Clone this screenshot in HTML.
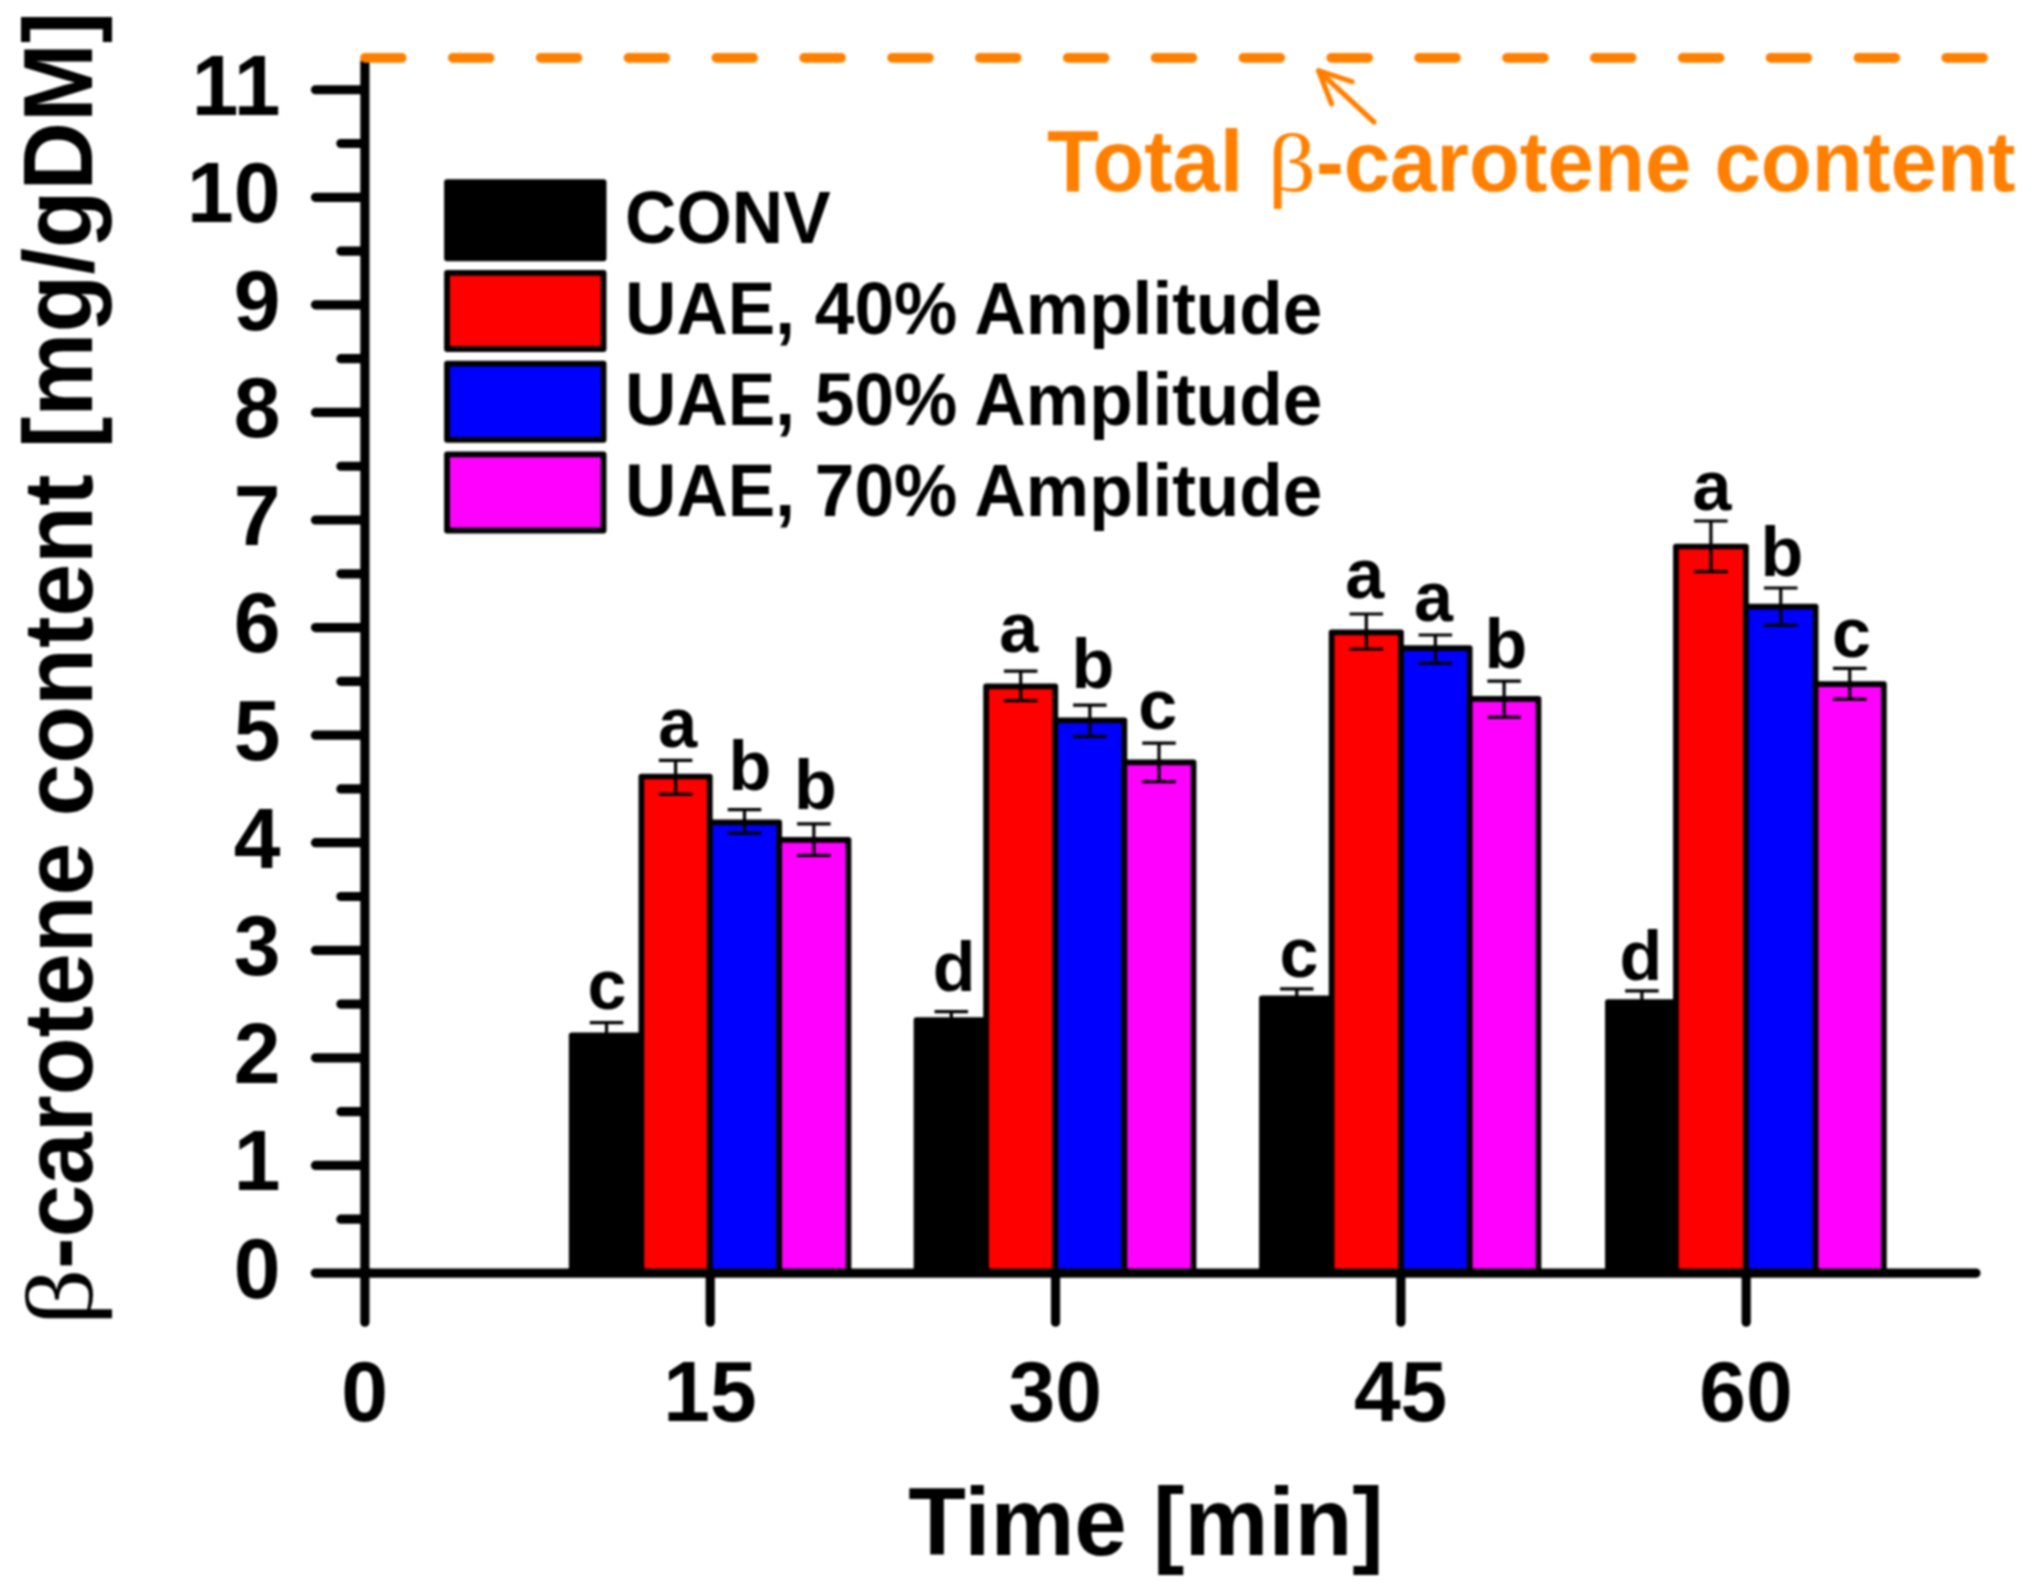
<!DOCTYPE html>
<html lang="en"><head><meta charset="utf-8"><title>β-carotene content vs. time</title>
<style>
html,body{margin:0;padding:0;background:#fff;}
body{width:2039px;height:1595px;overflow:hidden;}
svg{display:block;filter:blur(0.9px);}
text{font-family:"Liberation Sans",sans-serif;font-weight:bold;fill:#000;}
.sym{font-family:"Liberation Serif",serif;font-weight:normal;}
</style></head><body>
<svg width="2039" height="1595" viewBox="0 0 2039 1595">
<rect x="0" y="0" width="2039" height="1595" fill="#ffffff"/>
<g stroke="#000" stroke-width="5.70" stroke-linejoin="round">
<rect x="571.70" y="1035.30" width="69.70" height="237.70" fill="#000000"/>
<rect x="641.40" y="776.50" width="68.40" height="496.50" fill="#ff0000"/>
<rect x="709.80" y="822.30" width="69.40" height="450.70" fill="#0000ff"/>
<rect x="779.20" y="839.80" width="69.30" height="433.20" fill="#ff00ff"/>
<rect x="916.50" y="1020.10" width="69.60" height="252.90" fill="#000000"/>
<rect x="986.10" y="686.40" width="69.20" height="586.60" fill="#ff0000"/>
<rect x="1055.30" y="720.40" width="69.10" height="552.60" fill="#0000ff"/>
<rect x="1124.40" y="762.40" width="69.20" height="510.60" fill="#ff00ff"/>
<rect x="1261.90" y="998.30" width="69.70" height="274.70" fill="#000000"/>
<rect x="1331.60" y="632.40" width="69.40" height="640.60" fill="#ff0000"/>
<rect x="1401.00" y="648.20" width="68.70" height="624.80" fill="#0000ff"/>
<rect x="1469.70" y="698.90" width="68.80" height="574.10" fill="#ff00ff"/>
<rect x="1607.90" y="1002.00" width="68.00" height="271.00" fill="#000000"/>
<rect x="1675.90" y="546.50" width="70.00" height="726.50" fill="#ff0000"/>
<rect x="1745.90" y="606.60" width="69.70" height="666.40" fill="#0000ff"/>
<rect x="1815.60" y="684.20" width="68.30" height="588.80" fill="#ff00ff"/>
</g>
<g stroke="#000" stroke-width="3.20" fill="none">
<path d="M589.80 1022.60H623.30M589.80 1048.00H623.30M606.55 1022.60V1048.00"/>
<path d="M658.85 760.40H692.35M658.85 794.20H692.35M675.60 760.40V794.20"/>
<path d="M727.75 809.70H761.25M727.75 833.20H761.25M744.50 809.70V833.20"/>
<path d="M797.10 823.80H830.60M797.10 855.30H830.60M813.85 823.80V855.30"/>
<path d="M934.55 1011.70H968.05M934.55 1028.50H968.05M951.30 1011.70V1028.50"/>
<path d="M1003.95 671.20H1037.45M1003.95 700.70H1037.45M1020.70 671.20V700.70"/>
<path d="M1073.10 705.20H1106.60M1073.10 736.40H1106.60M1089.85 705.20V736.40"/>
<path d="M1142.25 743.20H1175.75M1142.25 781.60H1175.75M1159.00 743.20V781.60"/>
<path d="M1280.00 988.90H1313.50M1280.00 1007.70H1313.50M1296.75 988.90V1007.70"/>
<path d="M1349.55 614.00H1383.05M1349.55 649.00H1383.05M1366.30 614.00V649.00"/>
<path d="M1418.60 635.00H1452.10M1418.60 663.20H1452.10M1435.35 635.00V663.20"/>
<path d="M1487.35 681.10H1520.85M1487.35 717.10H1520.85M1504.10 681.10V717.10"/>
<path d="M1625.15 990.90H1658.65M1625.15 1013.10H1658.65M1641.90 990.90V1013.10"/>
<path d="M1694.15 521.00H1727.65M1694.15 571.60H1727.65M1710.90 521.00V571.60"/>
<path d="M1764.00 588.00H1797.50M1764.00 625.20H1797.50M1780.75 588.00V625.20"/>
<path d="M1833.00 668.40H1866.50M1833.00 699.10H1866.50M1849.75 668.40V699.10"/>
</g>
<g font-size="70" text-anchor="middle">
<text x="607.0" y="1008.5">c</text>
<text x="677.8" y="746.8">a</text>
<text x="750.0" y="789.8">b</text>
<text x="815.3" y="808.9">b</text>
<text x="954.2" y="991.2">d</text>
<text x="1018.6" y="651.8">a</text>
<text x="1093.0" y="688.3">b</text>
<text x="1157.6" y="728.5">c</text>
<text x="1298.9" y="977.0">c</text>
<text x="1364.6" y="598.3">a</text>
<text x="1433.4" y="621.0">a</text>
<text x="1506.0" y="668.3">b</text>
<text x="1641.0" y="979.7">d</text>
<text x="1712.0" y="510.0">a</text>
<text x="1782.0" y="576.0">b</text>
<text x="1851.4" y="657.3">c</text>
</g>
<g stroke="#000" stroke-width="9.2" stroke-linecap="round" fill="none">
<path d="M315.5 1165.43H363.9"/>
<path d="M315.5 1057.86H363.9"/>
<path d="M315.5 950.29H363.9"/>
<path d="M315.5 842.72H363.9"/>
<path d="M315.5 735.15H363.9"/>
<path d="M315.5 627.58H363.9"/>
<path d="M315.5 520.01H363.9"/>
<path d="M315.5 412.44H363.9"/>
<path d="M315.5 304.87H363.9"/>
<path d="M315.5 197.30H363.9"/>
<path d="M315.5 89.73H363.9"/>
<path d="M340.9 1219.21H363.9"/>
<path d="M340.9 1111.64H363.9"/>
<path d="M340.9 1004.08H363.9"/>
<path d="M340.9 896.50H363.9"/>
<path d="M340.9 788.94H363.9"/>
<path d="M340.9 681.37H363.9"/>
<path d="M340.9 573.80H363.9"/>
<path d="M340.9 466.23H363.9"/>
<path d="M340.9 358.66H363.9"/>
<path d="M340.9 251.09H363.9"/>
<path d="M340.9 143.52H363.9"/>
<path d="M710.23 1274.0V1322.2"/>
<path d="M1055.55 1274.0V1322.2"/>
<path d="M1400.88 1274.0V1322.2"/>
<path d="M1746.20 1274.0V1322.2"/>
<path d="M364.9 62.0V1322.2"/>
<path d="M315.3 1273.1H1976.0"/>
</g>
<path d="M365.0 57.8H1990" stroke="#ff8000" stroke-width="9.8" stroke-linecap="round" stroke-dasharray="36.7 51.15" fill="none"/>
<g stroke="#ff8000" stroke-width="5.2" stroke-linecap="round" stroke-linejoin="round" fill="none">
<path d="M1374 122L1318.6 70.8"/><path d="M1352 81.6L1318.6 70.8L1331.5 103.8"/>
</g>
<text transform="translate(280.50 1297.80) scale(1.0000 1.0200)" font-size="84" text-anchor="end">0</text>
<text transform="translate(280.50 1190.23) scale(1.0000 1.0200)" font-size="84" text-anchor="end">1</text>
<text transform="translate(280.50 1082.66) scale(1.0000 1.0200)" font-size="84" text-anchor="end">2</text>
<text transform="translate(280.50 975.09) scale(1.0000 1.0200)" font-size="84" text-anchor="end">3</text>
<text transform="translate(280.50 867.52) scale(1.0000 1.0200)" font-size="84" text-anchor="end">4</text>
<text transform="translate(280.50 759.95) scale(1.0000 1.0200)" font-size="84" text-anchor="end">5</text>
<text transform="translate(280.50 652.38) scale(1.0000 1.0200)" font-size="84" text-anchor="end">6</text>
<text transform="translate(280.50 544.81) scale(1.0000 1.0200)" font-size="84" text-anchor="end">7</text>
<text transform="translate(280.50 437.24) scale(1.0000 1.0200)" font-size="84" text-anchor="end">8</text>
<text transform="translate(280.50 329.67) scale(1.0000 1.0200)" font-size="84" text-anchor="end">9</text>
<text transform="translate(280.50 222.10) scale(1.0000 1.0200)" font-size="84" text-anchor="end">10</text>
<text transform="translate(280.50 114.53) scale(1.0000 1.0200)" font-size="84" text-anchor="end">11</text>
<text transform="translate(364.60 1421.40) scale(1.0000 1.0200)" font-size="84" text-anchor="middle">0</text>
<text transform="translate(709.93 1421.40) scale(1.0000 1.0200)" font-size="84" text-anchor="middle">15</text>
<text transform="translate(1055.25 1421.40) scale(1.0000 1.0200)" font-size="84" text-anchor="middle">30</text>
<text transform="translate(1400.58 1421.40) scale(1.0000 1.0200)" font-size="84" text-anchor="middle">45</text>
<text transform="translate(1745.90 1421.40) scale(1.0000 1.0200)" font-size="84" text-anchor="middle">60</text>
<text transform="translate(1146.00 1554.60) scale(1.0000 1.0200)" font-size="94.4" text-anchor="middle">Time [min]</text>
<text transform="translate(91.8 1297.0) rotate(-90) scale(1.155 0.986)" font-size="97" text-anchor="middle" class="sym">β</text>
<text transform="translate(91.6 11.6) rotate(-90) scale(0.9765 1.01)" font-size="97" text-anchor="end">-carotene content [mg/gDM]</text>
<text transform="translate(1047.00 190.60) scale(1.0000 1.0200)" font-size="84.8" text-anchor="start" style="fill:#ff8000">Total</text>
<text transform="translate(1292.00 190.60) scale(1.1300 0.9700)" font-size="84" text-anchor="middle" class="sym" style="fill:#ff8000">β</text>
<text transform="translate(2015.60 190.60) scale(1.0000 1.0300)" font-size="83.4" text-anchor="end" style="fill:#ff8000">-carotene content</text>
<g stroke="#000" stroke-width="5.8" stroke-linejoin="round">
<rect x="447.0" y="182.1" width="156.6" height="76.2" fill="#000000"/>
<rect x="447.0" y="272.8" width="156.6" height="76.2" fill="#ff0000"/>
<rect x="447.0" y="363.6" width="156.6" height="76.2" fill="#0000ff"/>
<rect x="447.0" y="454.3" width="156.6" height="76.2" fill="#ff00ff"/>
</g>
<text transform="translate(625.00 242.90) scale(1.0000 1.0350)" font-size="71.2" text-anchor="start">CONV</text>
<text transform="translate(625.00 333.85) scale(1.0000 1.0350)" font-size="71.2" text-anchor="start">UAE, 40% Amplitude</text>
<text transform="translate(625.00 424.80) scale(1.0000 1.0350)" font-size="71.2" text-anchor="start">UAE, 50% Amplitude</text>
<text transform="translate(625.00 515.75) scale(1.0000 1.0350)" font-size="71.2" text-anchor="start">UAE, 70% Amplitude</text>
</svg></body></html>
